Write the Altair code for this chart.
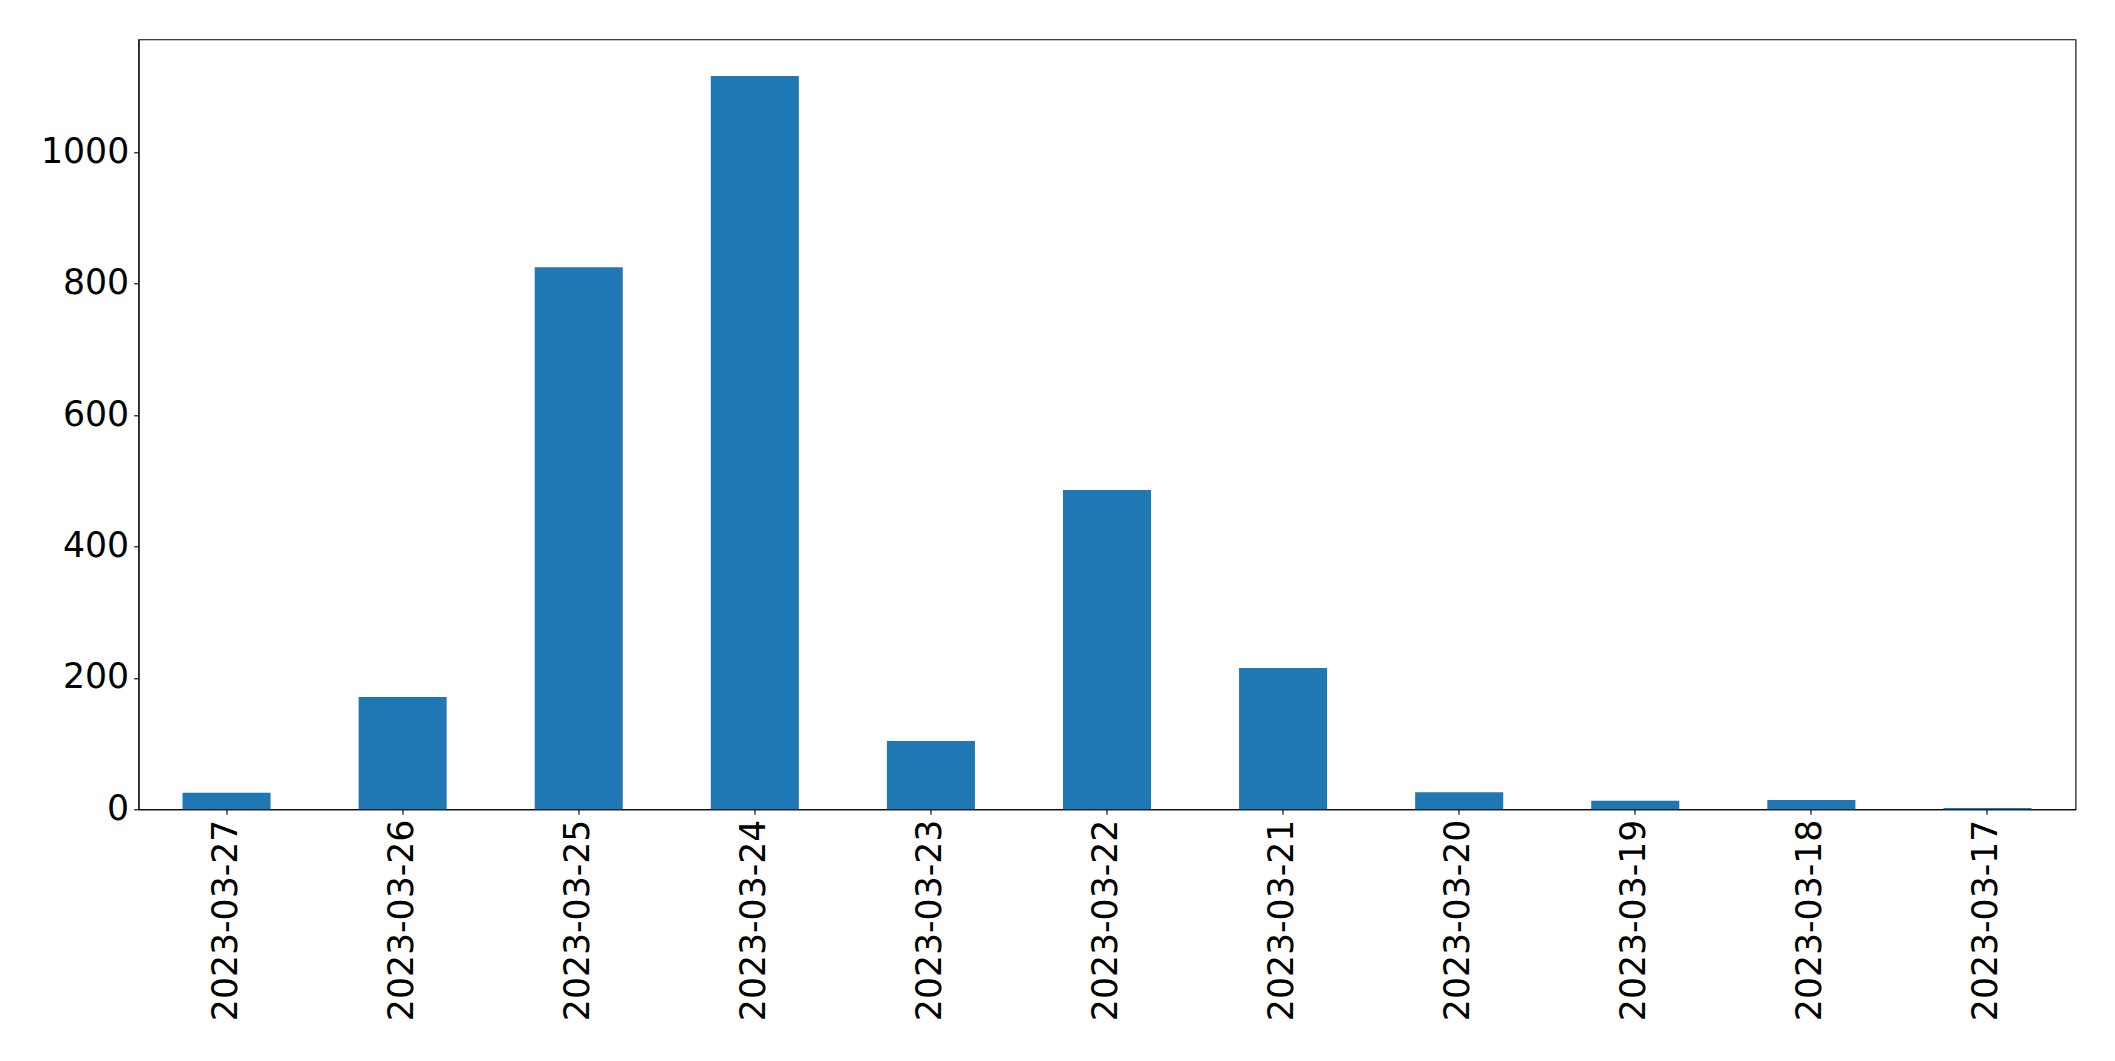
import altair as alt
import pandas as pd

dates = ["2023-03-27", "2023-03-26", "2023-03-25", "2023-03-24", "2023-03-23",
         "2023-03-22", "2023-03-21", "2023-03-20", "2023-03-19", "2023-03-18",
         "2023-03-17"]
counts = [25, 171, 825, 1116, 104, 486, 215, 26, 13, 14, 2]
y_ticks = [0, 200, 400, 600, 800, 1000]

df = pd.DataFrame({"date": dates, "count": counts})

FONT = "DejaVu Sans"
FS = 34.7

chart = alt.Chart(df).mark_bar(color="#1f77b4").encode(
    x=alt.X("date:N", sort=dates, title=None,
            scale=alt.Scale(paddingInner=0.5, paddingOuter=0.25),
            axis=alt.Axis(labelAngle=270, labelFont=FONT, labelFontSize=FS,
                          labelColor="black", tickColor="black", tickSize=4.9,
                          tickWidth=1.1, domainColor="black", domainWidth=1.1,
                          labelPadding=4.9, labelLimit=0, grid=False)),
    y=alt.Y("count:Q", title=None,
            scale=alt.Scale(domain=[0, 1172], nice=False, zero=True),
            axis=alt.Axis(values=y_ticks, format="d", labelFont=FONT,
                          labelFontSize=FS, labelColor="black", tickColor="black",
                          tickSize=4.9, tickWidth=1.1, domainColor="black",
                          domainWidth=1.1, labelPadding=4.9, labelLimit=0,
                          grid=False)),
).properties(
    width=1937, height=770,
    autosize=alt.AutoSizeParams(type="none"),
    padding={"left": 130.5, "top": 31.3, "right": 30, "bottom": 240},
).configure_view(stroke="black", strokeWidth=1.1)

chart.save("out.html", embed_options={"renderer": "svg", "actions": False})
